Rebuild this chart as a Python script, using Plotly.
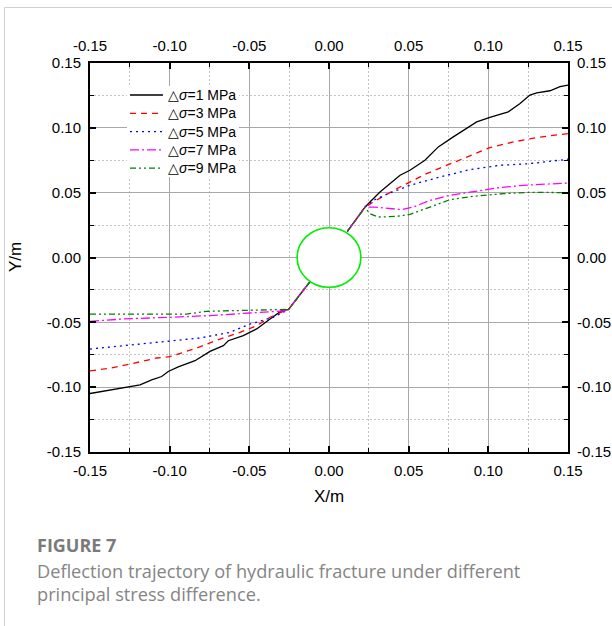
import plotly.graph_objects as go

# Fracture trajectories for each principal stress difference (X/m, Y/m).
# Each branch runs from the model edge to the wellbore wall.
labels = ["\u25b3<i>\u03c3</i>=1 MPa", "\u25b3<i>\u03c3</i>=3 MPa", "\u25b3<i>\u03c3</i>=5 MPa",
          "\u25b3<i>\u03c3</i>=7 MPa", "\u25b3<i>\u03c3</i>=9 MPa"]

x_left_1 = [-0.150, -0.1374, -0.1270, -0.1186, -0.1113, -0.1050, -0.1009, -0.0946, -0.0841, -0.0747,
            -0.0663, -0.0632, -0.0538, -0.0454, -0.0370, -0.0297, -0.0255, -0.0119]
y_left_1 = [-0.1049, -0.1023, -0.1003, -0.0982, -0.0943, -0.0918, -0.0879, -0.0843, -0.0796, -0.0724,
            -0.0680, -0.0642, -0.0603, -0.0551, -0.0474, -0.0410, -0.0402, -0.0186]
x_right_1 = [0.0115, 0.0226, 0.0257, 0.0320, 0.0446, 0.0508, 0.0602, 0.0686, 0.0780, 0.0864,
             0.0927, 0.1010, 0.1125, 0.1199, 0.1261, 0.1304, 0.1387, 0.1450, 0.150]
y_right_1 = [0.0201, 0.0389, 0.0428, 0.0505, 0.0634, 0.0673, 0.0750, 0.0853, 0.0930, 0.0995,
             0.1046, 0.1080, 0.1123, 0.1188, 0.1253, 0.1270, 0.1286, 0.1317, 0.1330]

x_left_3 = [-0.150, -0.1374, -0.1249, -0.1081, -0.0998, -0.0830, -0.0684, -0.0559, -0.0454, -0.0370,
            -0.0287, -0.0255, -0.0119]
y_left_3 = [-0.0874, -0.0853, -0.0822, -0.0775, -0.0765, -0.0698, -0.0629, -0.0577, -0.0526, -0.0461,
            -0.0415, -0.0402, -0.0186]
x_right_3 = [0.0115, 0.0226, 0.0331, 0.0446, 0.0613, 0.0739, 0.0885, 0.1010, 0.1157, 0.1304, 0.150]
y_right_3 = [0.0201, 0.0389, 0.0466, 0.0544, 0.0647, 0.0711, 0.0789, 0.0848, 0.0891, 0.0925, 0.0956]

x_left_5 = [-0.150, -0.1291, -0.1019, -0.0810, -0.0621, -0.0496, -0.0422, -0.0350, -0.0255, -0.0119]
y_left_5 = [-0.0706, -0.0680, -0.0649, -0.0621, -0.0577, -0.0513, -0.0487, -0.0461, -0.0402, -0.0186]
x_right_5 = [0.0115, 0.0226, 0.0278, 0.0372, 0.0508, 0.0697, 0.0885, 0.1073, 0.1261, 0.150]
y_right_5 = [0.0201, 0.0389, 0.0441, 0.0492, 0.0557, 0.0621, 0.0678, 0.0711, 0.0724, 0.0758]

x_left_7 = [-0.150, -0.1291, -0.0998, -0.0747, -0.0496, -0.0265, -0.0255, -0.0119]
y_left_7 = [-0.0492, -0.0474, -0.0461, -0.0448, -0.0428, -0.0410, -0.0402, -0.0186]
x_right_7 = [0.0115, 0.0226, 0.0289, 0.0372, 0.0456, 0.0529, 0.0634, 0.0759, 0.0906, 0.1052, 0.1219, 0.150]
y_right_7 = [0.0201, 0.0389, 0.0389, 0.0381, 0.0369, 0.0389, 0.0441, 0.0479, 0.0505, 0.0536, 0.0557, 0.0574]

x_left_9 = [-0.150, -0.0893, -0.0768, -0.0496, -0.0265, -0.0255, -0.0119]
y_left_9 = [-0.0436, -0.0436, -0.0415, -0.0405, -0.0400, -0.0402, -0.0186]
x_right_9 = [0.0115, 0.0226, 0.0257, 0.0309, 0.0425, 0.0508, 0.0634, 0.0759, 0.0906, 0.1094, 0.1261, 0.150]
y_right_9 = [0.0201, 0.0385, 0.0338, 0.0312, 0.0317, 0.0332, 0.0389, 0.0446, 0.0472, 0.0492, 0.0503, 0.0500]

# Wellbore outline (semi-axes in X/m and Y/m)
wellbore_rx = 0.020
wellbore_ry = 0.023

tick_vals = [-0.15, -0.10, -0.05, 0.00, 0.05, 0.10, 0.15]
tick_text = ["-0.15", "-0.10", "-0.05", "0.00", "0.05", "0.10", "0.15"]
minor_vals = [-0.125, -0.075, -0.025, 0.025, 0.075, 0.125]

caption_title = "FIGURE 7"
caption_lines = ["Deflection trajectory of hydraulic fracture under different",
                 "principal stress difference."]

colors = ["#000000", "#ff0000", "#0000ff", "#ff00ff", "#008000"]
dashes = ["solid", "6px,5px", "2px,4px", "9px,3px,2px,3px", "6px,3px,2px,3px,2px,3px"]

series = [
    (x_left_1, y_left_1, x_right_1, y_right_1),
    (x_left_3, y_left_3, x_right_3, y_right_3),
    (x_left_5, y_left_5, x_right_5, y_right_5),
    (x_left_7, y_left_7, x_right_7, y_right_7),
    (x_left_9, y_left_9, x_right_9, y_right_9),
]

W, H = 612, 626
L, R, T, B = 90, 568, 63, 452


def px_x(p):
    return (p - L) / (R - L)


def px_y(p):
    return (B - p) / (B - T)


fig = go.Figure()
for (xl, yl, xr, yr), name, c, d in zip(series, labels, colors, dashes):
    fig.add_trace(go.Scatter(
        x=xl + [None] + xr, y=yl + [None] + yr, mode="lines", name=name,
        line=dict(color=c, width=1.3, dash=d), connectgaps=False, showlegend=False,
    ))

# invisible trace so the mirrored top/right axes are drawn
fig.add_trace(go.Scatter(x=[0], y=[0], xaxis="x2", yaxis="y2", mode="markers",
                         marker=dict(opacity=0), showlegend=False, hoverinfo="skip"))

tick_font = dict(family="Liberation Sans, Arial, sans-serif", size=15, color="black")
common = dict(
    range=[-0.15, 0.15], tickmode="array", tickvals=tick_vals, ticktext=tick_text,
    ticks="inside", ticklen=6, tickwidth=1.5, tickcolor="black",
    showline=True, linecolor="black", linewidth=2, zeroline=False,
    tickfont=tick_font, ticklabelstandoff=4, automargin=False,
)
minor_grid = dict(tickmode="array", tickvals=minor_vals, ticks="inside", ticklen=4,
                  tickwidth=1, tickcolor="black", showgrid=True, gridcolor="#c4c4c4",
                  gridwidth=1, griddash="2px,2px")
minor_nogrid = dict(tickmode="array", tickvals=minor_vals, ticks="inside", ticklen=4,
                    tickwidth=1, tickcolor="black", showgrid=False)

fig.update_layout(
    width=W, height=H,
    margin=dict(l=L, r=W - R, t=T, b=H - B),
    paper_bgcolor="white", plot_bgcolor="white",
    xaxis=dict(**common, side="bottom", showgrid=True, gridcolor="#a8a8a8", gridwidth=1,
               minor=minor_grid),
    yaxis=dict(**common, side="left", showgrid=True, gridcolor="#a8a8a8", gridwidth=1,
               minor=minor_grid),
    xaxis2=dict(**common, side="top", overlaying="x", anchor="y", showgrid=False,
                minor=minor_nogrid),
    yaxis2=dict(**common, side="right", overlaying="y", anchor="x", showgrid=False,
                minor=minor_nogrid),
    showlegend=False,
)

fig.add_shape(type="circle", xref="x", yref="y",
              x0=-wellbore_rx, x1=wellbore_rx, y0=-wellbore_ry, y1=wellbore_ry,
              line=dict(color="#00ee00", width=1.6), fillcolor="white", layer="above")

# legend box: white panel, line samples and labels
fig.add_shape(type="rect", xref="paper", yref="paper",
              x0=px_x(127), x1=px_x(239), y0=px_y(86), y1=px_y(177),
              fillcolor="white", line=dict(width=0), layer="above")
legend_font = dict(family="Liberation Sans, Arial, sans-serif", size=14, color="black")
for i, (name, c, d) in enumerate(zip(labels, colors, dashes)):
    row = 95 + 18.3 * i
    fig.add_shape(type="line", xref="paper", yref="paper",
                  x0=px_x(130), x1=px_x(163), y0=px_y(row), y1=px_y(row),
                  line=dict(color=c, width=1.3, dash=d), layer="above")
    fig.add_annotation(text=name, xref="paper", yref="paper", x=px_x(166), y=px_y(row),
                       xanchor="left", yanchor="middle", showarrow=False, font=legend_font)

# outer card border
fig.add_shape(type="rect", xref="paper", yref="paper",
              x0=px_x(4.5), x1=px_x(700), y0=px_y(7.5), y1=px_y(700),
              line=dict(color="#d0d0d0", width=1))

title_font = dict(family="Liberation Sans, Arial, sans-serif", size=17, color="black")
fig.add_annotation(text="X/m", xref="paper", yref="paper", x=0.5, y=px_y(497),
                   xanchor="center", yanchor="middle", showarrow=False, font=title_font)
fig.add_annotation(text="Y/m", xref="paper", yref="paper", x=px_x(15.5), y=0.5,
                   xanchor="center", yanchor="middle", showarrow=False, textangle=-90,
                   font=title_font)

fig.add_annotation(text="<b>" + caption_title + "</b>", xref="paper", yref="paper",
                   x=px_x(35), y=px_y(545), xanchor="left", yanchor="middle", showarrow=False,
                   font=dict(family="Open Sans, Lato, sans-serif", size=18, color="#7a7a7a"))
for i, line in enumerate(caption_lines):
    fig.add_annotation(text=line, xref="paper", yref="paper",
                       x=px_x(35), y=px_y(571 + 23 * i), xanchor="left", yanchor="middle",
                       showarrow=False,
                       font=dict(family="Open Sans, Lato, sans-serif", size=18.2, color="#858585"))

fig.write_html("out.html")
